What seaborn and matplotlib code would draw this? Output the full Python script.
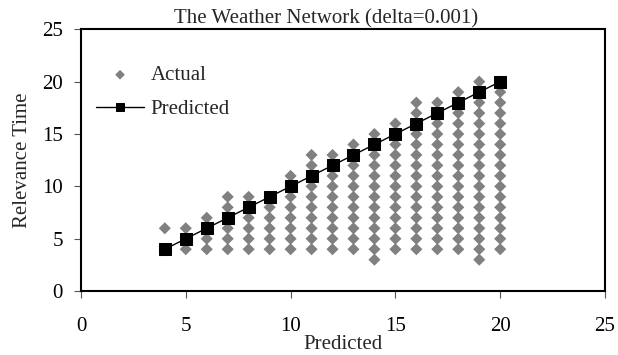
import matplotlib
matplotlib.use("Agg")
import matplotlib.pyplot as plt
import seaborn as sns
import pandas as pd

# ---- data ----
actual_x_positions = [4, 5, 6, 7, 8, 9, 10, 11, 12, 13, 14, 15, 16, 17, 18, 19, 20]
actual_values = [
    [4, 6],
    [4, 5, 6],
    [4, 5, 6, 7],
    [4, 5, 6, 7, 8, 9],
    [4, 5, 6, 7, 8, 9],
    [4, 5, 6, 7, 8, 9],
    [4, 5, 6, 7, 8, 9, 10, 11],
    [4, 5, 6, 7, 8, 9, 10, 11, 12, 13],
    [4, 5, 6, 7, 8, 9, 10, 11, 12, 13],
    [4, 5, 6, 7, 8, 9, 10, 11, 12, 13, 14],
    [3, 4, 5, 6, 7, 8, 9, 10, 11, 12, 13, 14, 15],
    [4, 5, 6, 7, 8, 9, 10, 11, 12, 13, 14, 15, 16],
    [4, 5, 6, 7, 8, 9, 10, 11, 12, 13, 14, 15, 16, 17, 18],
    [4, 5, 6, 7, 8, 9, 10, 11, 12, 13, 14, 15, 16, 17, 18],
    [4, 5, 6, 7, 8, 9, 10, 11, 12, 13, 14, 15, 16, 17, 18, 19],
    [3, 4, 5, 6, 7, 8, 9, 10, 11, 12, 13, 14, 15, 16, 17, 18, 19, 20],
    [4, 5, 6, 7, 8, 9, 10, 11, 12, 13, 14, 15, 16, 17, 18, 19, 20],
]
predicted_x = [4, 5, 6, 7, 8, 9, 10, 11, 12, 13, 14, 15, 16, 17, 18, 19, 20]
predicted_y = [4, 5, 6, 7, 8, 9, 10, 11, 12, 13, 14, 15, 16, 17, 18, 19, 20]
x_ticks = [0, 5, 10, 15, 20, 25]
y_ticks = [0, 5, 10, 15, 20, 25]
title = "The Weather Network (delta=0.001)"
x_label = "Predicted"
y_label = "Relevance Time"

actual_df = pd.DataFrame(
    [(x, y) for x, ys in zip(actual_x_positions, actual_values) for y in ys],
    columns=["x", "y"],
)
pred_df = pd.DataFrame({"x": predicted_x, "y": predicted_y})

sns.set_style("white")
plt.rcParams["font.family"] = ["Liberation Serif", "DejaVu Serif"]

FS = 15

fig = plt.figure(figsize=(6.18, 3.55), dpi=100)
ax = fig.add_axes([0.131, 0.180, 0.848, 0.7375])

sns.scatterplot(data=actual_df, x="x", y="y", ax=ax, marker="D", s=38,
                color="#808080", edgecolor="none", label="Actual", zorder=2)
sns.lineplot(data=pred_df, x="x", y="y", ax=ax, color="black", linewidth=1.0,
             marker="s", markersize=8, markeredgecolor="black",
             markerfacecolor="black", label="Predicted", zorder=3)

ax.set_xlim(0, 25)
ax.set_ylim(0, 25)
ax.set_xticks(x_ticks)
ax.set_yticks(y_ticks)
ax.tick_params(axis="both", which="major", direction="out", length=5,
               width=0.8, color="#555555", labelsize=FS,
               bottom=True, left=True, labelcolor="black")
ax.tick_params(axis="x", pad=14)
ax.tick_params(axis="y", pad=8)
for sp in ax.spines.values():
    sp.set_color("black")
    sp.set_linewidth(1.5)
    sp.set_visible(True)

ax.set_xlabel(x_label, fontsize=FS, labelpad=-1)
ax.set_ylabel(y_label, fontsize=FS, labelpad=7.5)
ax.set_title(title, fontsize=FS, pad=4.5, x=0.4685)

leg = ax.legend(loc="upper left", frameon=False, fontsize=FS,
                bbox_to_anchor=(0.0, 0.917), handlelength=2.35,
                handletextpad=0.3, labelspacing=0.7, borderaxespad=0.3,
                markerscale=0.8)

fig.savefig("out.png", dpi=100)
